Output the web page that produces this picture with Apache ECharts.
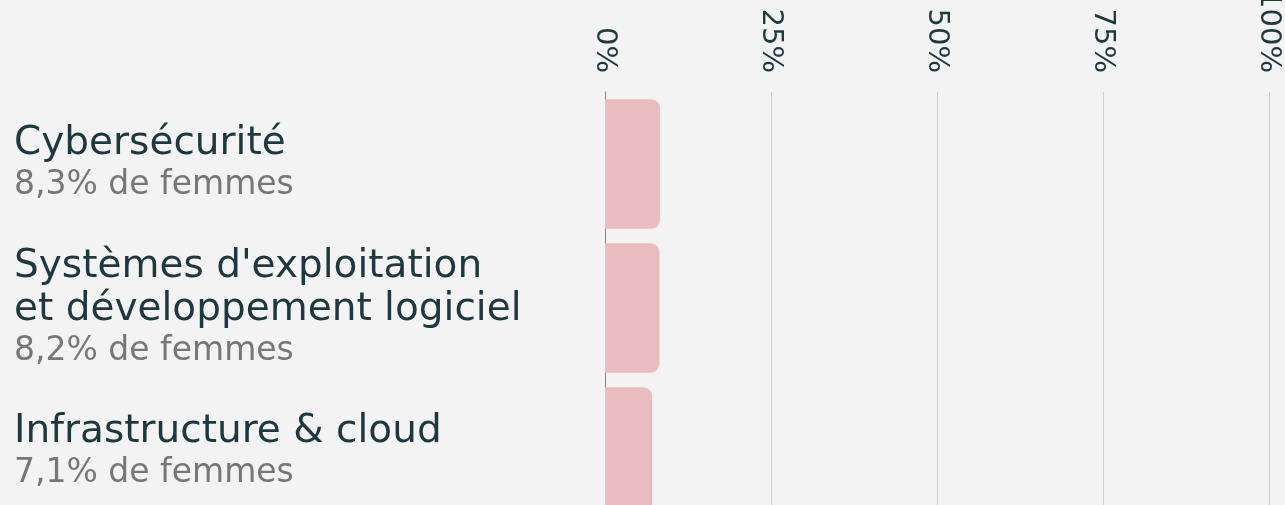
<!DOCTYPE html>
<html>
<head>
<meta charset="utf-8">
<script src="https://cdn.jsdelivr.net/npm/echarts@6/dist/echarts.min.js"></script>
<style>
  html, body { margin: 0; padding: 0; background: #f3f3f3; }
  #chart { width: 1285px; height: 505px; }
</style>
</head>
<body>
<div id="chart"></div>
<script>
// titres des domaines (retour à la ligne manuel)
const categories = [
  'Cybersécurité',
  "Systèmes d'exploitation\net développement logiciel",
  'Infrastructure & cloud'
];
// part de femmes, en %
const shares = [8.3, 8.2, 7.1];
const ticks = [0, 25, 50, 75, 100];

const myChart = echarts.init(document.getElementById('chart'));

const option = {
  backgroundColor: '#f3f3f3',
  animation: false,
  grid: {
    left: 605,
    right: 16,
    top: 92,
    height: 432,
    outerBoundsMode: 'none',
    containLabel: false
  },
  xAxis: {
    type: 'value',
    position: 'top',
    min: ticks[0],
    max: ticks[ticks.length - 1],
    interval: 25,
    axisLine: { show: false },
    axisTick: { show: false },
    splitLine: { lineStyle: { color: '#cfcfcf', width: 1 } },
    axisLabel: {
      rotate: 90,
      margin: 19,
      color: '#1f383f',
      fontFamily: 'DejaVu Sans',
      fontSize: 29,
      formatter: v => v + '%'
    }
  },
  yAxis: {
    type: 'category',
    inverse: true,
    data: categories,
    axisLine: { show: true, lineStyle: { color: '#7f8586', width: 1 } },
    axisTick: { show: false },
    axisLabel: {
      align: 'left',
      margin: 591,
      formatter: function (name, idx) {
        const lines = name.split('\n').map(l => '{t|' + l + '}').join('\n');
        const sub = shares[idx].toFixed(1).replace('.', ',') + '% de femmes';
        return lines + '\n{s|' + sub + '}';
      },
      rich: {
        t: {
          fontFamily: 'DejaVu Sans',
          fontSize: 39,
          color: '#1f383f',
          lineHeight: 43
        },
        s: {
          fontFamily: 'DejaVu Sans',
          fontSize: 33,
          color: '#777777',
          lineHeight: 40
        }
      }
    }
  },
  series: [
    {
      type: 'bar',
      data: shares,
      barCategoryGap: '10%',
      itemStyle: {
        color: '#ebbcbf',
        borderRadius: [0, 9, 9, 0]
      }
    }
  ]
};
myChart.setOption(option);
</script>
</body>
</html>
